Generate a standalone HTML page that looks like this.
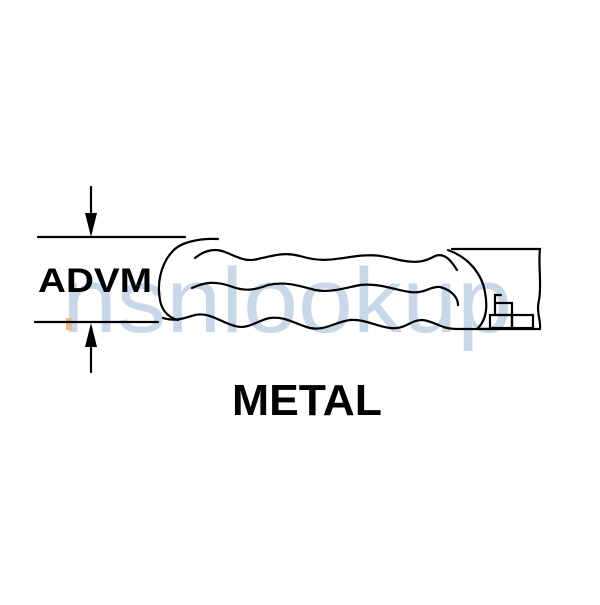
<!DOCTYPE html>
<html><head><style>html,body{margin:0;padding:0;background:#fff;}</style></head>
<body>
<svg width="600" height="600" viewBox="0 0 600 600" xmlns="http://www.w3.org/2000/svg">
<text x="62" y="332" font-family="Liberation Sans, sans-serif" font-size="92" fill="#c9d8e8" textLength="450" lengthAdjust="spacingAndGlyphs">nsnlookup</text>
<rect x="66" y="318" width="6" height="12" fill="#f2b98a"/>
<g stroke="#000" stroke-width="2.2" fill="none" stroke-linecap="round">
<line x1="38" y1="237" x2="185" y2="237"/>
<line x1="35" y1="322" x2="158" y2="322"/>
<line x1="91" y1="187" x2="91" y2="215"/>
<line x1="91" y1="345" x2="91" y2="372"/>
<path d="M218,239 C200,238 180,242 172,252 C160,265 157,285 160,300 C162,312 170,318 178,320"/>
<path d="M195,258 C205,250 215,248 225,252 C240,258 245,262 258,259 C275,255 285,252 300,256 C320,262 330,260 350,257 C370,254 380,255 395,259 C415,264 425,262 435,256 C445,252 452,262 457,270"/>
<path d="M192,288 C205,282 215,281 230,286 C245,292 255,290 268,285 C285,281 300,286 315,290 C330,293 345,288 360,285 C380,283 395,290 410,292 C425,294 430,286 440,287 C452,290 458,298 458,305"/>
<path d="M163,318 C175,322 185,318 195,315 C210,312 220,322 235,326 C248,330 258,320 270,318 C285,316 295,324 310,328 C325,331 335,322 350,320 C365,319 375,326 390,328 C405,330 410,320 422,320 C435,321 440,329 457,329 L540,329"/>
<path d="M448,250 C470,258 482,275 485,292 C488,308 486,320 478,328"/>
<path d="M452,249 L540,249 C538,265 542,285 539,300 C536,312 541,320 540,329"/>
<path d="M495,303 L495,295 L501,295"/>
<rect x="495" y="303" width="17" height="12"/>
<rect x="490" y="315" width="22" height="13"/>
<rect x="512" y="315" width="21" height="13"/>
</g>
<polygon points="85,213 97,213 91,237" fill="#000"/>
<polygon points="85,347 97,347 91,323" fill="#000"/>
<text x="38" y="292" font-family="Liberation Sans, sans-serif" font-weight="bold" font-size="34" fill="#000" textLength="114" lengthAdjust="spacingAndGlyphs">ADVM</text>
<text x="232" y="415" font-family="Liberation Sans, sans-serif" font-weight="bold" font-size="44" fill="#000" textLength="150" lengthAdjust="spacingAndGlyphs">METAL</text>
</svg>
</body></html>
